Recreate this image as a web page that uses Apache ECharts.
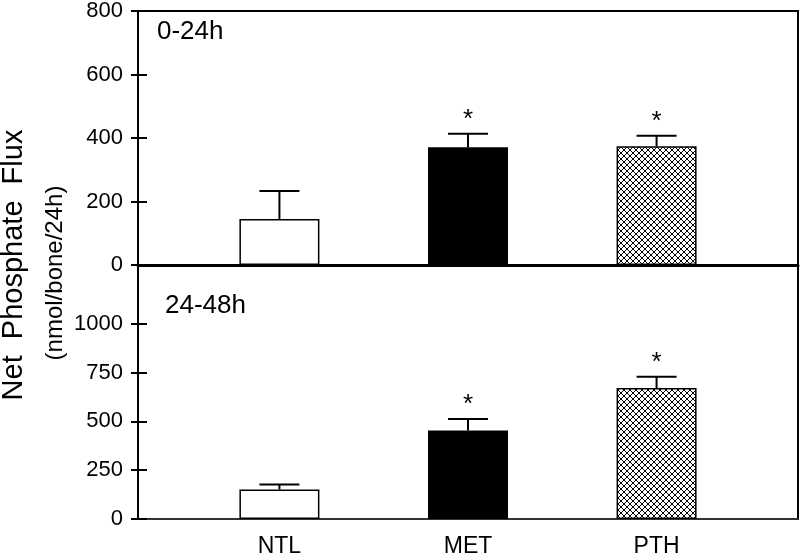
<!DOCTYPE html>
<html>
<head>
<meta charset="utf-8">
<script src="https://cdn.jsdelivr.net/npm/echarts@6/dist/echarts.min.js"></script>
<style>
html,body{margin:0;padding:0;background:#fff;}
#chart{width:800px;height:558px;}
</style>
</head>
<body>
<div id="chart"></div>
<script>
// ---- data ----
const categories = ['NTL', 'MET', 'PTH'];
const catPos = [1, 2, 3];
const flux0_24 = [145, 371, 374];
const err0_24 = [88, 42, 33];
const flux24_48 = [151, 453, 670];
const err24_48 = [26, 59, 58];
const significant = [false, true, true];
const ticksTop = [0, 200, 400, 600, 800];
const ticksBottom = [0, 250, 500, 750, 1000];
const panelLabels = ['0-24h', '24-48h'];

// ---- styles ----
const FONT = 'Liberation Sans, Arial, sans-serif';
function hatch() {
  const c = document.createElement('canvas');
  c.width = 6; c.height = 6;
  const g = c.getContext('2d');
  g.fillStyle = '#fff'; g.fillRect(0, 0, 6, 6);
  g.strokeStyle = '#000'; g.lineWidth = 1;
  g.beginPath();
  g.moveTo(0, 0); g.lineTo(6, 6);
  g.moveTo(6, 0); g.lineTo(0, 6);
  g.stroke();
  return c;
}
const fills = ['#ffffff', '#000000', { image: hatch(), repeat: 'repeat' }];

const chart = echarts.init(document.getElementById('chart'), null, { renderer: 'canvas' });

function xAxisFor(gridIndex, showLabels, lineWidth, lineColor) {
  return {
    type: 'value', gridIndex, min: 0.25, max: 3.75,
    splitLine: { show: false },
    axisLine: { show: true, onZero: false, lineStyle: { color: lineColor, width: lineWidth } },
    axisTick: { show: false },
    axisLabel: {
      show: showLabels, customValues: catPos, margin: 16,
      formatter: v => categories[catPos.indexOf(v)] || '',
      color: '#000', fontSize: 23, fontFamily: FONT
    }
  };
}
function yAxesFor(gridIndex, max, ticks) {
  return [{
    type: 'value', gridIndex, min: 0, max, position: 'left',
    splitLine: { show: false },
    axisLine: { show: true, lineStyle: { color: '#000', width: 2 } },
    axisTick: { show: true, inside: false, length: 7, customValues: ticks, lineStyle: { color: '#000', width: 2 } },
    axisLabel: { customValues: ticks, margin: 15, color: '#000', fontSize: 22, fontFamily: FONT,
                 formatter: v => String(v) }
  }, {
    type: 'value', gridIndex, min: 0, max, position: 'left',
    splitLine: { show: false },
    axisLine: { show: false },
    axisTick: { show: true, inside: true, length: 9, customValues: ticks, lineStyle: { color: '#000', width: 2 } },
    axisLabel: { show: false }
  }];
}

function barSeries(xi, yi, vals) {
  return {
    type: 'bar', xAxisIndex: xi, yAxisIndex: yi, barWidth: 80,
    data: vals.map((v, i) => ({
      value: [catPos[i], v],
      itemStyle: { color: fills[i], borderColor: '#000', borderWidth: 1.5 }
    })),
    z: 2
  };
}
function errSeries(xi, yi, vals, errs) {
  return {
    type: 'custom', xAxisIndex: xi, yAxisIndex: yi, z: 3,
    data: vals.map((v, i) => [catPos[i], v, errs[i], significant[i] ? 1 : 0]),
    renderItem: (params, api) => {
      const x = api.value(0), v = api.value(1), e = api.value(2), s = api.value(3);
      const p0 = api.coord([x, v]);
      const p1 = api.coord([x, v + e]);
      const st = { stroke: '#000', lineWidth: 2 };
      const children = [
        { type: 'line', shape: { x1: p0[0], y1: p0[1], x2: p1[0], y2: p1[1] }, style: st },
        { type: 'line', shape: { x1: p1[0] - 20, y1: p1[1], x2: p1[0] + 20, y2: p1[1] }, style: st }
      ];
      if (s) {
        children.push({
          type: 'text',
          style: { text: '*', x: p1[0], y: p1[1] - 14, align: 'center', verticalAlign: 'middle',
                   fontSize: 26, fontFamily: FONT, fill: '#000' }
        });
      }
      return { type: 'group', children };
    }
  };
}

const option = {
  animation: false,
  backgroundColor: '#fff',
  grid: [
    { left: 138, top: 6, width: 660, height: 259, show: true, borderColor: '#000', borderWidth: 2, backgroundColor: 'transparent' },
    { left: 138, top: 265, width: 660, height: 256, show: true, borderColor: '#000', borderWidth: 2, backgroundColor: 'transparent' }
  ],
  xAxis: [
    xAxisFor(0, false, 3, '#000'),
    xAxisFor(1, true, 1.5, '#444')
  ],
  yAxis: [
    ...yAxesFor(0, 800, ticksTop),
    ...yAxesFor(1, 1300, ticksBottom)
  ],
  title: [
    { text: panelLabels[0], left: 157, top: 19, textStyle: { fontSize: 26, fontWeight: 'normal', color: '#000', fontFamily: FONT }, padding: 0 },
    { text: panelLabels[1], left: 165, top: 293, textStyle: { fontSize: 26, fontWeight: 'normal', color: '#000', fontFamily: FONT }, padding: 0 }
  ],
  graphic: [
    { type: 'text', x: 14, y: 265, rotation: Math.PI / 2,
      style: { text: 'Net  Phosphate  Flux', align: 'center', verticalAlign: 'middle', fontSize: 29, fontFamily: FONT, fill: '#000' } },
    { type: 'text', x: 55, y: 273, rotation: Math.PI / 2,
      style: { text: '(nmol/bone/24h)', align: 'center', verticalAlign: 'middle', fontSize: 24, fontFamily: FONT, fill: '#000' } }
  ],
  series: [
    barSeries(0, 0, flux0_24),
    errSeries(0, 0, flux0_24, err0_24),
    barSeries(1, 2, flux24_48),
    errSeries(1, 2, flux24_48, err24_48)
  ]
};
chart.setOption(option);
</script>
</body>
</html>
